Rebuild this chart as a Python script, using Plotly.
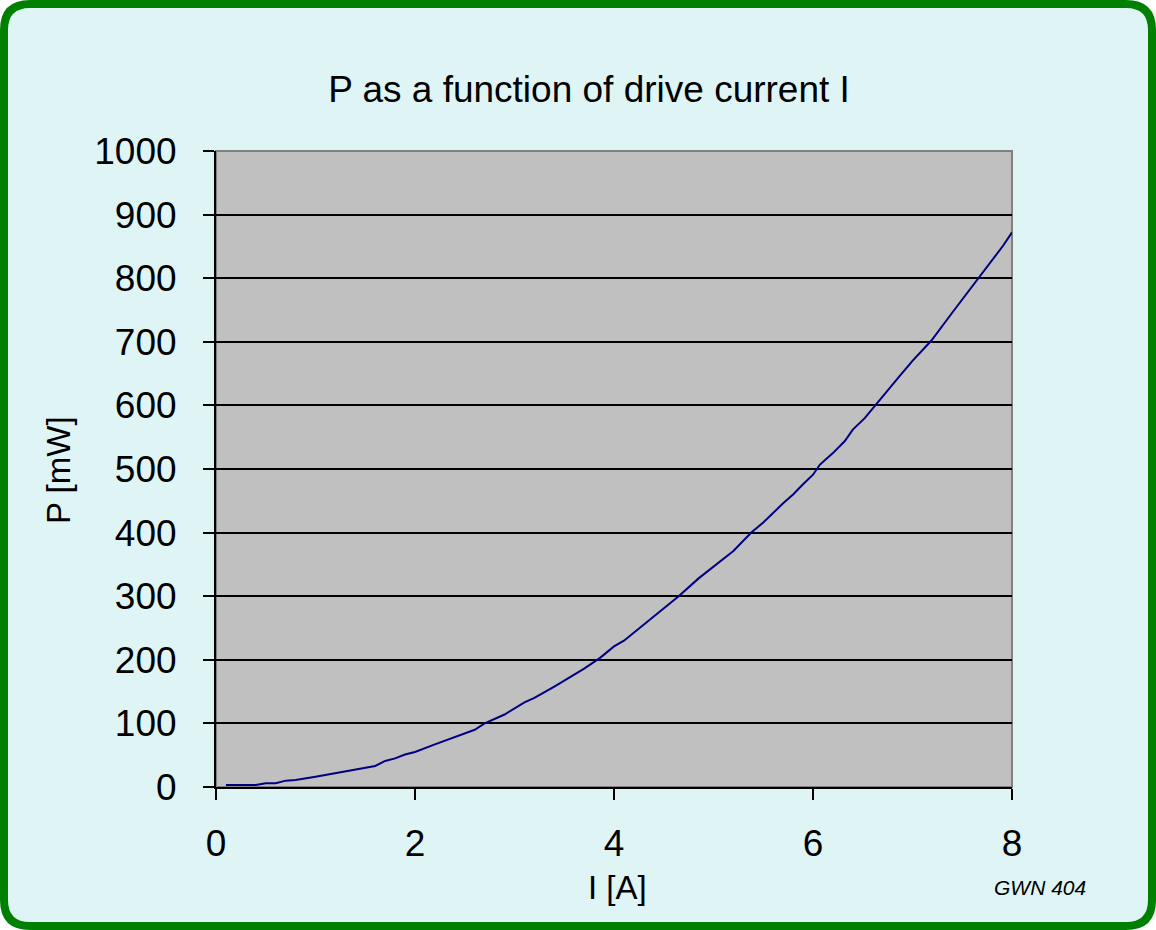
import plotly.graph_objects as go

# ---- data ----
current_A = [0.1, 0.2, 0.3, 0.4, 0.5, 0.6, 0.7, 0.8, 1.0, 1.2, 1.4, 1.6, 1.7, 1.8, 1.9, 2.0,
             2.2, 2.4, 2.6, 2.7, 2.9, 3.1, 3.2, 3.4, 3.6, 3.7, 3.86, 4.0, 4.1, 4.3, 4.5,
             4.65, 4.85, 5.0, 5.2, 5.38, 5.5, 5.7, 5.8, 5.9, 6.0, 6.07, 6.2, 6.32, 6.4,
             6.52, 6.64, 6.87, 7.0, 7.19, 7.41, 7.55, 7.68, 7.85, 7.91, 8.0]
power_mW = [3, 3, 3, 3, 6, 6, 10, 11, 16, 22, 27, 33, 41, 45, 51, 55,
            67, 79, 90, 100, 114, 133, 140, 158, 176, 186, 203, 221, 230, 255, 280,
            300, 328, 347, 371, 400, 416, 446, 460, 476, 491, 507, 525, 544, 562,
            580, 603, 646, 670, 702, 748, 777, 804, 840, 851, 872]

x_ticks = [0, 2, 4, 6, 8]
y_ticks = [0, 100, 200, 300, 400, 500, 600, 700, 800, 900, 1000]

title_text = "P as a function of drive current I"
x_title = "I [A]"
y_title = "P [mW]"
credit = "GWN 404"

# ---- layout geometry (pixels) ----
FW, FH = 1156, 930
L, R, T, B = 216, 1012, 151, 787
W, H = R - L, B - T
FONT = "Arial, Liberation Sans, sans-serif"


def P(px, py):
    return f"{(px - L) / W:.5f},{(B - py) / H:.5f}"


x0, y0, x1, y1, r = 4, 4, FW - 4, FH - 4, 26
frame_path = (
    f"M {P(x0 + r, y0)} L {P(x1 - r, y0)} Q {P(x1, y0)} {P(x1, y0 + r)} "
    f"L {P(x1, y1 - r)} Q {P(x1, y1)} {P(x1 - r, y1)} "
    f"L {P(x0 + r, y1)} Q {P(x0, y1)} {P(x0, y1 - r)} "
    f"L {P(x0, y0 + r)} Q {P(x0, y0)} {P(x0 + r, y0)} Z"
)

fig = go.Figure()
fig.add_trace(go.Scatter(
    x=current_A, y=power_mW, mode="lines",
    line=dict(color="#000080", width=2),
    hoverinfo="x+y", showlegend=False,
))

shapes = [
    dict(type="path", path=frame_path, xref="paper", yref="paper", layer="below",
         fillcolor="#dff5f5", line=dict(color="#008000", width=8)),
    dict(type="rect", xref="paper", yref="paper", x0=0, y0=0, x1=1, y1=1, layer="below",
         fillcolor="#c0c0c0", line=dict(color="#808080", width=2)),
]

annotations = [
    dict(text=x_title, xref="paper", yref="paper", x=(617 - L) / W, y=(B - 888) / H,
         xanchor="center", yanchor="middle", showarrow=False,
         font=dict(family=FONT, size=33, color="black")),
    dict(text=y_title, xref="paper", yref="paper", x=(59 - L) / W, y=(B - 470) / H,
         xanchor="center", yanchor="middle", showarrow=False, textangle=-90,
         font=dict(family=FONT, size=33, color="black")),
    dict(text=f"<i>{credit}</i>", xref="paper", yref="paper", x=(1040 - L) / W, y=(B - 888) / H,
         xanchor="center", yanchor="middle", showarrow=False,
         font=dict(family=FONT, size=21, color="black")),
]

fig.update_layout(
    width=FW, height=FH,
    margin=dict(l=L, r=FW - R, t=T, b=FH - B, pad=0),
    paper_bgcolor="white",
    plot_bgcolor="rgba(0,0,0,0)",
    title=dict(text=title_text, x=589 / FW, y=1 - 89 / FH, xref="container", yref="container",
               xanchor="center", yanchor="middle",
               font=dict(family=FONT, size=37, color="black")),
    shapes=shapes,
    annotations=annotations,
    font=dict(family=FONT, color="black"),
)

fig.update_xaxes(
    range=[0, 8], tickvals=x_ticks, ticktext=[str(v) for v in x_ticks],
    showgrid=False, zeroline=False,
    showline=True, linecolor="black", linewidth=2,
    ticks="outside", ticklen=11, tickwidth=2, tickcolor="black",
    tickfont=dict(family=FONT, size=37, color="black"),
    ticklabelstandoff=12,
)
fig.update_yaxes(
    range=[0, 1000], tickvals=y_ticks, ticktext=[str(v) for v in y_ticks],
    showgrid=True, gridcolor="black", gridwidth=2, zeroline=False,
    showline=True, linecolor="black", linewidth=2,
    ticks="outside", ticklen=11, tickwidth=2, tickcolor="black",
    tickfont=dict(family=FONT, size=37, color="black"),
    ticklabelstandoff=19,
)

fig.write_html("out.html", config={"displayModeBar": False},
               post_script="document.body.style.margin='0';")
